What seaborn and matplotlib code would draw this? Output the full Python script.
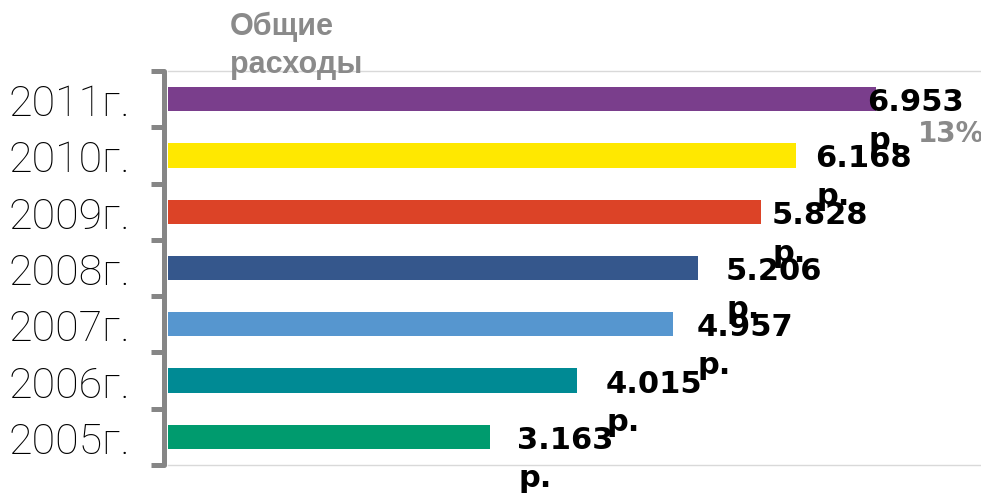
import matplotlib
matplotlib.use("Agg")
import matplotlib.pyplot as plt
import seaborn as sns
import pandas as pd
import numpy as np

# ---- data ----
years = ["2011г.", "2010г.", "2009г.", "2008г.", "2007г.", "2006г.", "2005г."]
values = [6953, 6168, 5828, 5206, 4957, 4015, 3163]
value_labels = ["6.953", "6.168", "5.828", "5.206", "4.957", "4.015", "3.163"]
unit_label = "р."
title_lines = ["Общие", "расходы"]
growth_label = "13%"
bar_colors = ["#7A3E8C", "#FFE800", "#DC4327", "#35578C", "#5696CF", "#008A94", "#009B6E"]

# label horizontal offsets (px) relative to bar end
label_dx_px = [-9, 19, 10, 27, 24, 29, 27]

df = pd.DataFrame({"year": years, "value": values})

sns.set_theme(style="white")
DPI = 100
fig = plt.figure(figsize=(9.81, 5.02), dpi=DPI)
ax = fig.add_axes([168 / 981, 36 / 502, 1 - 168 / 981 + 0.01, 394 / 502])

sns.barplot(data=df, y="year", x="value", hue="year", order=years, hue_order=years,
            palette=bar_colors, orient="h", width=0.43, legend=False, ax=ax,
            saturation=1, linewidth=0)

ax.set_xlim(0, 8080)
ax.set_ylim(6.5, -0.5)
ax.set_xlabel("")
ax.set_ylabel("")
ax.set_xticks([])

# spines
for s in ["top", "bottom"]:
    ax.spines[s].set_color("#d9d9d9")
    ax.spines[s].set_linewidth(1.0)
ax.spines["right"].set_visible(False)
ax.spines["left"].set_color("#868686")
ax.spines["left"].set_linewidth(3.6)
ax.spines["left"].set_position(("outward", 3))
ax.spines["left"].set_capstyle("round")

# ticks: labels at centers, tick marks at boundaries
ax.set_yticks(range(len(years)))
ax.set_yticklabels(years, fontsize=31, family=["Roboto", "DejaVu Sans"], fontweight="light",
                   color="black")
ax.tick_params(axis="y", which="major", length=0, pad=24)
ax.set_yticks(np.arange(-0.5, len(years), 1.0), minor=True)
ax.tick_params(axis="y", which="minor", length=9.5, width=3.6, color="#868686", left=True)

px = 72 / DPI
vbold = dict(family=["DejaVu Sans"], fontweight="bold")
bold = dict(family=["Liberation Sans", "DejaVu Sans"], fontweight="bold")
for i, (v, lab) in enumerate(zip(values, value_labels)):
    dx = label_dx_px[i] * px
    ax.annotate(lab, xy=(v, i), xytext=(dx, -11 * px), textcoords="offset points",
                ha="left", va="baseline", fontsize=22, color="black", **vbold, zorder=5)
    ax.annotate(unit_label, xy=(v, i), xytext=(dx + 1 * px, -49 * px), textcoords="offset points",
                ha="left", va="baseline", fontsize=22, color="black", **vbold, zorder=5)

# title
fig.text(230 / 981, 1 - 35 / 502, title_lines[0], fontsize=22, color="#8a8a8a", ha="left",
         va="baseline", **bold)
fig.text(230 / 981, 1 - 73 / 502, title_lines[1], fontsize=22, color="#8a8a8a", ha="left",
         va="baseline", **bold)

# growth label
fig.text(918 / 981, 1 - 142 / 502, growth_label, fontsize=20, color="#8a8a8a", ha="left",
         va="baseline", **vbold)

fig.savefig("out.png", dpi=DPI)
